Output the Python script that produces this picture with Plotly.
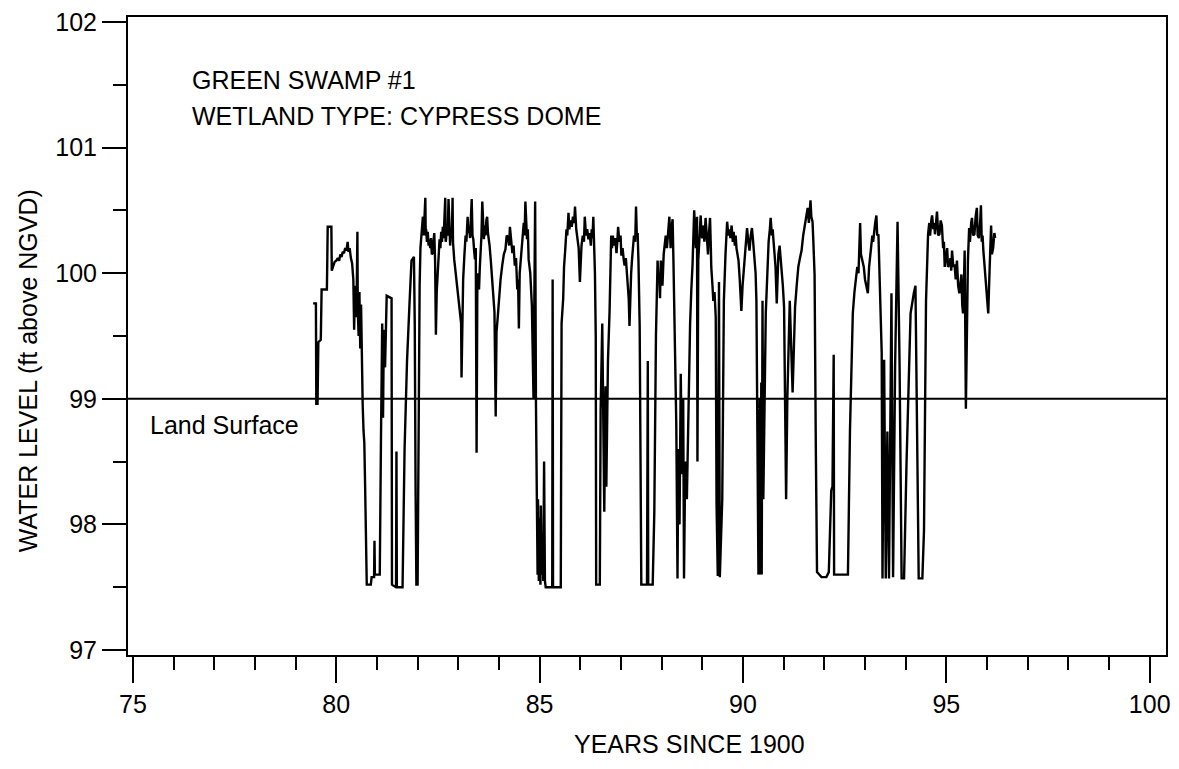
import plotly.graph_objects as go

# ---- values: years since 1900 and water level (ft above NGVD) ----
years_1 = [79.43, 79.50, 79.51, 79.54, 79.56, 79.62, 79.64, 79.77, 79.79, 79.88,
           79.89, 79.92, 79.96, 80.00, 80.04, 80.07, 80.10, 80.13, 80.16, 80.19,
           80.22, 80.25, 80.28, 80.30, 80.33, 80.36, 80.39, 80.42, 80.44, 80.46,
           80.48, 80.50, 80.52, 80.53, 80.55, 80.57, 80.59, 80.61, 80.63, 80.65,
           80.67, 80.69, 80.71, 80.73, 80.75, 80.85, 80.87, 80.93, 80.94, 80.95,
           81.05, 81.07, 81.10, 81.13, 81.15, 81.17, 81.20, 81.24, 81.36, 81.37,
           81.47, 81.48, 81.49, 81.63, 81.68, 81.74, 81.80, 81.85, 81.91, 81.93,
           81.95, 81.97, 82.00, 82.02]
level_1 = [99.76, 99.76, 98.96, 98.96, 99.45, 99.47, 99.87, 99.87, 100.37, 100.37,
           100.02, 100.05, 100.09, 100.10, 100.12, 100.10, 100.15, 100.13, 100.17, 100.16,
           100.20, 100.18, 100.25, 100.17, 100.20, 100.12, 100.08, 99.95, 99.55, 99.90,
           99.65, 99.75, 100.33, 99.70, 99.50, 99.85, 99.40, 99.75, 99.20, 98.95,
           98.75, 98.65, 98.30, 97.70, 97.52, 97.52, 97.58, 97.58, 97.87, 97.60,
           97.60, 97.60, 98.70, 99.60, 98.85, 99.55, 99.25, 99.82, 99.80, 97.52,
           97.50, 98.58, 97.50, 97.50, 98.60, 99.30, 99.75, 100.10, 100.13, 99.60,
           98.30, 97.52, 97.52, 98.90]

years_2 = [82.05, 82.07, 82.09, 82.11, 82.13, 82.15, 82.17, 82.19, 82.20, 82.21,
           82.23, 82.25, 82.27, 82.29, 82.31, 82.33, 82.35, 82.37, 82.39, 82.41,
           82.43, 82.45, 82.47, 82.50, 82.52, 82.54, 82.56, 82.58, 82.60, 82.62,
           82.64, 82.66, 82.68, 82.69, 82.70, 82.72, 82.74, 82.76, 82.78, 82.80,
           82.82, 82.84, 82.86, 82.87, 82.90, 82.92, 82.94, 82.97, 83.01, 83.04,
           83.07, 83.08, 83.10, 83.12, 83.15, 83.18, 83.20, 83.23, 83.25, 83.27,
           83.29, 83.31, 83.33, 83.35, 83.37, 83.39, 83.41, 83.43, 83.45, 83.47,
           83.49, 83.51, 83.53, 83.55, 83.57, 83.59, 83.61, 83.63, 83.65, 83.67,
           83.69, 83.71, 83.73, 83.75, 83.77, 83.80, 83.82, 83.84, 83.87, 83.89,
           83.92, 83.94, 83.97, 84.00, 84.04, 84.08, 84.12, 84.16, 84.19, 84.22,
           84.25, 84.27, 84.30, 84.33, 84.36, 84.39, 84.42, 84.45, 84.47, 84.49,
           84.51, 84.54, 84.57, 84.59, 84.61, 84.63, 84.65, 84.67, 84.69, 84.71,
           84.73, 84.77, 84.81, 84.85, 84.89, 84.91]
level_2 = [99.90, 100.20, 100.27, 100.38, 100.45, 100.30, 100.42, 100.60, 100.30, 100.35,
           100.25, 100.33, 100.22, 100.27, 100.20, 100.28, 100.15, 100.16, 100.25, 100.32,
           100.10, 99.51, 99.85, 100.00, 100.18, 100.27, 100.20, 100.33, 100.25, 100.37,
           100.28, 100.40, 100.60, 100.25, 100.27, 100.38, 100.30, 100.59, 100.30, 100.22,
           100.35, 100.28, 100.60, 100.25, 100.11, 100.05, 99.95, 99.88, 99.74, 99.68,
           99.60, 99.17, 99.74, 99.95, 100.14, 100.30, 100.25, 100.45, 100.32, 100.35,
           100.28, 100.42, 100.59, 100.30, 100.27, 100.18, 100.11, 100.20, 98.57, 100.00,
           99.90, 99.87, 100.05, 100.14, 100.30, 100.57, 100.30, 100.27, 100.38, 100.30,
           100.42, 100.45, 100.32, 100.28, 100.22, 100.10, 100.02, 99.93, 99.80, 99.69,
           98.86, 99.53, 99.65, 99.80, 99.95, 100.06, 100.15, 100.19, 100.30, 100.29,
           100.22, 100.37, 100.25, 100.16, 100.22, 100.06, 100.12, 99.87, 99.95, 99.56,
           100.00, 100.15, 100.22, 100.32, 100.40, 100.30, 100.57, 100.30, 100.27, 100.35,
           100.11, 100.00, 99.74, 99.00, 100.57, 98.96]

years_3 = [84.93, 84.95, 84.96, 84.98, 85.00, 85.02, 85.03, 85.05, 85.07, 85.09,
           85.11, 85.13, 85.15, 85.31, 85.32, 85.33, 85.52, 85.54, 85.58, 85.60,
           85.63, 85.66, 85.68, 85.71, 85.73, 85.76, 85.79, 85.82, 85.85, 85.87,
           85.90, 85.92, 85.94, 85.96, 85.99, 86.01, 86.03, 86.06, 86.09, 86.11,
           86.14, 86.17, 86.20, 86.23, 86.26, 86.28, 86.30, 86.32, 86.34, 86.36,
           86.38, 86.39, 86.48, 86.50, 86.54, 86.56, 86.59, 86.62, 86.64, 86.68,
           86.72]
level_3 = [98.10, 97.60, 98.20, 97.55, 98.05, 97.52, 98.15, 97.60, 97.90, 97.55,
           98.50, 97.55, 97.50, 97.50, 99.95, 97.50, 97.50, 99.60, 99.80, 100.05,
           100.19, 100.35, 100.30, 100.48, 100.35, 100.42, 100.37, 100.45, 100.40, 100.53,
           100.35, 100.30, 100.27, 100.20, 99.93, 100.15, 100.22, 100.30, 100.25, 100.45,
           100.30, 100.35, 100.27, 100.32, 100.22, 100.35, 100.28, 100.45, 100.20, 100.00,
           99.50, 97.52, 97.52, 98.90, 99.60, 98.80, 98.10, 99.10, 98.30, 99.30,
           99.70]

years_4 = [86.76, 86.78, 86.80, 86.83, 86.86, 86.89, 86.91, 86.93, 86.96, 86.99,
           87.01, 87.04, 87.07, 87.09, 87.12, 87.15, 87.17, 87.19, 87.21, 87.23,
           87.25, 87.27, 87.29, 87.32, 87.35, 87.37, 87.39, 87.41, 87.43, 87.46,
           87.50, 87.64, 87.66, 87.67, 87.78, 87.82, 87.86, 87.88, 87.90, 87.92,
           87.94, 87.96, 87.98, 88.00, 88.02, 88.05, 88.08, 88.10, 88.13, 88.16,
           88.19, 88.21, 88.22, 88.24, 88.27, 88.29, 88.32, 88.36, 88.39, 88.41,
           88.44, 88.47, 88.50, 88.53, 88.55, 88.58, 88.62, 88.66, 88.70, 88.73,
           88.76, 88.80, 88.84, 88.87, 88.88]
level_4 = [100.30, 100.20, 100.30, 100.22, 100.28, 100.16, 100.25, 100.37, 100.25, 100.30,
           100.14, 100.20, 100.10, 100.06, 100.12, 100.00, 99.95, 99.80, 99.58, 99.85,
           100.00, 100.10, 100.16, 100.30, 100.25, 100.53, 100.30, 100.32, 100.10, 99.58,
           97.52, 97.52, 99.30, 97.52, 97.52, 98.10, 99.50, 99.85, 100.10, 99.95,
           100.00, 99.80, 100.10, 100.00, 99.90, 100.15, 100.25, 100.30, 100.20, 100.35,
           100.45, 100.28, 100.20, 100.35, 100.43, 100.10, 99.60, 98.80, 97.57, 98.60,
           98.00, 99.20, 98.40, 99.00, 97.57, 98.50, 98.20, 99.00, 99.60, 99.87,
           100.07, 100.50, 100.20, 100.45, 98.50]

years_5 = [88.90, 88.93, 88.96, 88.98, 89.00, 89.03, 89.05, 89.08, 89.11, 89.14,
           89.16, 89.19, 89.21, 89.22, 89.25, 89.27, 89.30, 89.33, 89.35, 89.38,
           89.41, 89.43, 89.49, 89.53, 89.57, 89.61, 89.64, 89.67, 89.69, 89.72,
           89.75, 89.77, 89.80, 89.82, 89.84, 89.87, 89.89, 89.92, 89.94, 89.96,
           89.99, 90.02, 90.05, 90.08, 90.10, 90.13, 90.16, 90.19, 90.22, 90.25,
           90.28, 90.31, 90.33, 90.36, 90.38, 90.41, 90.42, 90.45, 90.46, 90.48,
           90.50, 90.56]
level_5 = [100.10, 100.30, 100.46, 100.30, 100.28, 100.38, 100.25, 100.44, 100.25, 100.15,
           100.30, 100.44, 100.20, 100.05, 99.90, 99.78, 99.85, 99.65, 98.16, 97.59,
           99.93, 97.58, 98.20, 99.78, 100.15, 100.41, 100.30, 100.35, 100.28, 100.38,
           100.25, 100.33, 100.22, 100.30, 100.20, 100.15, 100.10, 99.95, 99.85, 99.70,
           99.90, 100.05, 100.20, 100.30, 100.36, 100.25, 100.18, 100.30, 100.36, 100.25,
           100.15, 100.00, 99.78, 98.48, 97.60, 99.00, 97.60, 99.13, 97.60, 99.78,
           98.20, 99.68]

years_6 = [90.60, 90.63, 90.66, 90.68, 90.71, 90.73, 90.75, 90.78, 90.80, 90.83,
           90.85, 90.87, 90.90, 90.93, 90.95, 90.98, 91.01, 91.06, 91.09, 91.15,
           91.22, 91.28, 91.32, 91.36, 91.40, 91.44, 91.48, 91.52, 91.55, 91.59,
           91.62, 91.64, 91.66, 91.68, 91.71, 91.73, 91.76, 91.79, 91.82, 91.93,
           92.05, 92.11, 92.17, 92.20, 92.23, 92.24, 92.58, 92.63]
level_6 = [100.05, 100.25, 100.35, 100.44, 100.30, 100.35, 100.26, 100.15, 100.05, 99.76,
           100.00, 100.15, 100.22, 100.10, 100.05, 99.90, 99.73, 98.20, 99.00, 99.78,
           99.05, 99.73, 99.90, 100.05, 100.12, 100.18, 100.30, 100.38, 100.45, 100.52,
           100.40, 100.50, 100.58, 100.45, 100.41, 100.25, 99.99, 98.63, 97.62, 97.58,
           97.58, 97.62, 98.27, 98.30, 99.35, 97.60, 97.60, 98.74]

years_7 = [92.70, 92.74, 92.78, 92.81, 92.84, 92.86, 92.88, 92.90, 92.94, 92.97,
           93.00, 93.04, 93.07, 93.10, 93.13, 93.15, 93.18, 93.20, 93.23, 93.25,
           93.28, 93.30, 93.33, 93.35, 93.37, 93.41, 93.43, 93.47, 93.51, 93.55,
           93.59, 93.65, 93.69, 93.74, 93.80, 93.85, 93.90, 93.96, 94.02, 94.12,
           94.20, 94.24, 94.28, 94.32, 94.41, 94.45]
level_7 = [99.68, 99.85, 99.97, 100.05, 100.00, 100.15, 100.40, 100.15, 100.10, 100.05,
           99.95, 99.90, 99.84, 100.05, 100.15, 100.26, 100.30, 100.25, 100.36, 100.40,
           100.46, 100.30, 100.31, 100.10, 99.84, 99.37, 97.57, 99.31, 97.57, 98.74,
           97.57, 99.84, 97.58, 99.26, 100.41, 99.26, 97.57, 97.57, 98.48, 99.68,
           99.84, 99.90, 98.74, 97.57, 97.57, 97.95]

years_8 = [94.50, 94.52, 94.55, 94.58, 94.60, 94.63, 94.65, 94.68, 94.70, 94.72,
           94.75, 94.77, 94.80, 94.83, 94.86, 94.89, 94.92, 94.94, 94.96, 94.99,
           95.02, 95.04, 95.07, 95.10, 95.12, 95.14, 95.17, 95.20, 95.23, 95.26,
           95.29, 95.32, 95.35, 95.37, 95.39, 95.41, 95.43, 95.45, 95.48, 95.51,
           95.53, 95.56, 95.58, 95.61, 95.63, 95.66, 95.69, 95.72, 95.75, 95.77,
           95.80, 95.83, 95.85, 95.87, 95.89, 95.91, 95.94, 95.97, 96.00, 96.03,
           96.06, 96.08, 96.10, 96.12, 96.15, 96.18, 96.20]
level_8 = [99.78, 100.10, 100.31, 100.40, 100.30, 100.42, 100.46, 100.35, 100.40, 100.31,
           100.40, 100.49, 100.30, 100.31, 100.42, 100.38, 100.20, 100.25, 100.05, 100.15,
           100.20, 100.05, 100.07, 100.12, 100.02, 100.18, 100.05, 100.07, 99.95, 100.10,
           99.90, 99.84, 99.95, 99.99, 99.75, 99.68, 99.90, 100.18, 98.92, 99.84,
           100.10, 100.36, 100.25, 100.40, 100.44, 100.30, 100.31, 100.45, 100.52, 100.30,
           100.28, 100.40, 100.54, 100.25, 100.30, 100.18, 100.05, 99.97, 99.85, 99.68,
           100.00, 100.25, 100.38, 100.15, 100.20, 100.32, 100.28]

land_surface = 99.0
x_ticks = [75, 80, 85, 90, 95, 100]
y_ticks = [97, 98, 99, 100, 101, 102]

year_parts = [years_1, years_2, years_3, years_4, years_5, years_6, years_7, years_8]
level_parts = [level_1, level_2, level_3, level_4, level_5, level_6, level_7, level_8]
years, water_level = [], []
for yp, lp in zip(year_parts, level_parts):
    assert len(yp) == len(lp)
    years += yp
    water_level += lp

FONT = "Liberation Sans, Arial, Helvetica, sans-serif"

fig = go.Figure()
fig.add_trace(go.Scatter(
    x=years, y=water_level, mode="lines",
    line=dict(color="black", width=2.4),
    hoverinfo="skip",
))

fig.add_shape(type="line", xref="paper", x0=0, x1=1, yref="y",
              y0=land_surface, y1=land_surface,
              line=dict(color="black", width=2))

fig.update_layout(
    width=1163, height=753, autosize=False,
    margin=dict(l=120, r=4, t=0, b=106),
    plot_bgcolor="white", paper_bgcolor="white",
    showlegend=False,
    font=dict(family=FONT, size=25, color="black"),
)

fig.update_xaxes(
    range=[74.88, 100.4], tickmode="array", tickvals=x_ticks,
    ticktext=[str(v) for v in x_ticks],
    ticks="outside", ticklen=26, tickwidth=2, tickcolor="black",
    showline=True, linewidth=2, linecolor="black", mirror=True,
    showgrid=False, zeroline=False, ticklabeloverflow="allow",
    minor=dict(tick0=75, dtick=1, ticks="outside", ticklen=13, tickwidth=2,
               tickcolor="black", showgrid=False),
    tickfont=dict(size=25),
)
fig.update_yaxes(
    range=[96.96, 102.04], tickmode="array", tickvals=y_ticks,
    ticktext=[str(v) for v in y_ticks],
    ticks="outside", ticklen=24, tickwidth=2, tickcolor="black",
    showline=True, linewidth=2, linecolor="black", mirror=True,
    showgrid=False, zeroline=False, ticklabeloverflow="allow",
    minor=dict(tick0=97, dtick=0.5, ticks="outside", ticklen=13, tickwidth=2,
               tickcolor="black", showgrid=False),
    tickfont=dict(size=25),
)

annotations = [
    dict(text="GREEN SWAMP #1", x=76.40, y=101.538, xref="x", yref="y",
         xanchor="left", yanchor="middle", showarrow=False, font=dict(size=25)),
    dict(text="WETLAND TYPE: CYPRESS DOME", x=76.40, y=101.255, xref="x", yref="y",
         xanchor="left", yanchor="middle", showarrow=False, font=dict(size=25)),
    dict(text="Land Surface", x=75.37, y=98.79, xref="x", yref="y",
         xanchor="left", yanchor="middle", showarrow=False, font=dict(size=25)),
    dict(text="YEARS SINCE 1900", x=0.541, y=-0.139, xref="paper", yref="paper",
         xanchor="center", yanchor="middle", showarrow=False, font=dict(size=25)),
    dict(text="WATER LEVEL (ft above NGVD)", x=-0.0962, y=0.445, xref="paper", yref="paper",
         xanchor="center", yanchor="middle", textangle=-90, showarrow=False, font=dict(size=25)),
]
fig.update_layout(annotations=annotations)

fig.write_html("out.html")
